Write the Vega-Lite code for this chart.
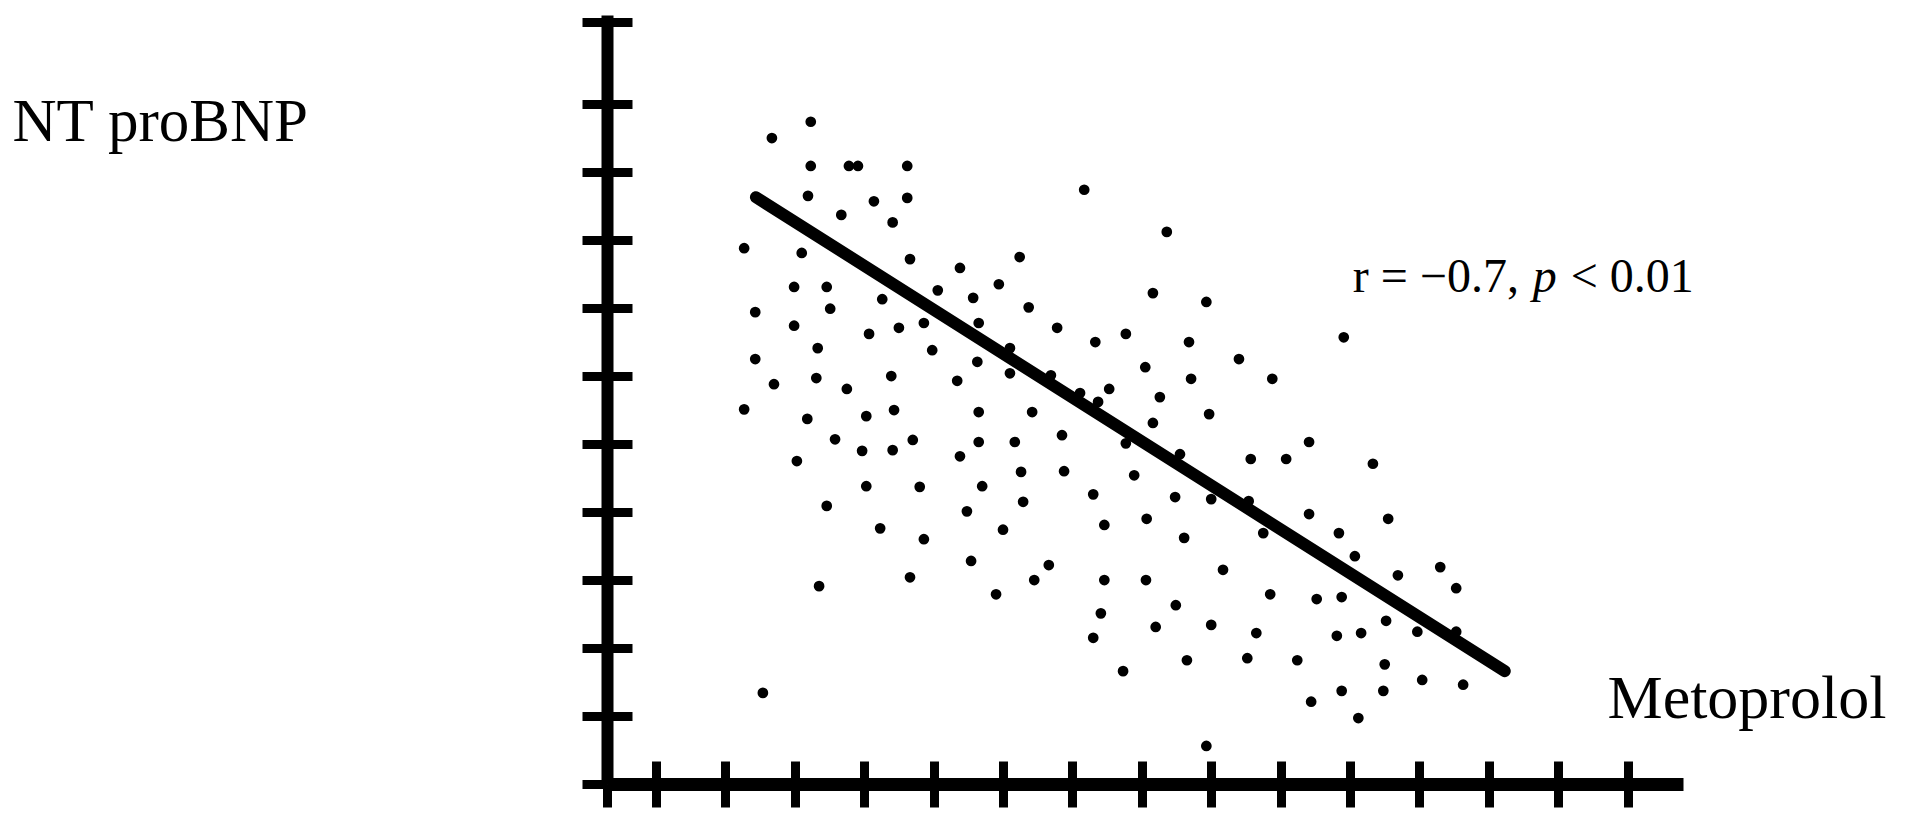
{
  "$schema": "https://vega.github.io/schema/vega-lite/v6.json",
  "width": 1076,
  "height": 769,
  "autosize": {"type": "none"},
  "padding": {"left": 607, "top": 15, "right": 223, "bottom": 46},
  "background": "white",
  "config": {
    "view": {"stroke": null},
    "axis": {"grid": false, "labels": false, "domainColor": "black", "tickColor": "black", "domainCap": "butt", "tickCap": "butt"}
  },
  "datasets": {
    "points": [
      {"x":3.23,"y":9.74},{"x":2.67,"y":9.50},{"x":3.23,"y":9.09},{"x":3.78,"y":9.09},{"x":3.91,"y":9.09},{"x":4.62,"y":9.09},{"x":3.19,"y":8.65},{"x":4.14,"y":8.57},{"x":4.62,"y":8.62},{"x":3.67,"y":8.37},{"x":4.41,"y":8.26},{"x":7.17,"y":8.74},{"x":2.27,"y":7.88},{"x":3.10,"y":7.81},{"x":4.66,"y":7.72},{"x":6.24,"y":7.75},{"x":5.38,"y":7.59},{"x":2.99,"y":7.31},{"x":3.46,"y":7.31},{"x":5.06,"y":7.26},{"x":5.94,"y":7.35},{"x":5.57,"y":7.15},{"x":4.26,"y":7.13},{"x":2.43,"y":6.94},{"x":3.51,"y":6.99},{"x":6.37,"y":7.01},{"x":2.99,"y":6.74},{"x":4.50,"y":6.71},{"x":4.86,"y":6.78},{"x":5.65,"y":6.78},{"x":4.07,"y":6.62},{"x":6.78,"y":6.71},{"x":7.33,"y":6.50},{"x":3.33,"y":6.41},{"x":4.98,"y":6.38},{"x":2.43,"y":6.25},{"x":5.63,"y":6.21},{"x":6.10,"y":6.41},{"x":6.10,"y":6.04},{"x":6.69,"y":6.01},{"x":3.31,"y":5.97},{"x":4.39,"y":6.00},{"x":2.70,"y":5.88},{"x":5.34,"y":5.93},{"x":3.75,"y":5.81},{"x":2.27,"y":5.51},{"x":3.18,"y":5.37},{"x":4.03,"y":5.41},{"x":4.43,"y":5.50},{"x":5.65,"y":5.47},{"x":6.42,"y":5.47},{"x":7.11,"y":5.75},
      {"x":8.36,"y":8.12},{"x":8.16,"y":7.22},{"x":8.93,"y":7.09},{"x":7.77,"y":6.62},{"x":8.68,"y":6.50},{"x":10.91,"y":6.57},{"x":9.40,"y":6.25},{"x":8.05,"y":6.13},{"x":8.71,"y":5.96},{"x":9.88,"y":5.96},{"x":7.53,"y":5.81},{"x":8.26,"y":5.69},{"x":7.37,"y":5.62},{"x":8.97,"y":5.44},{"x":8.16,"y":5.31},{"x":6.85,"y":5.13},{"x":6.17,"y":5.03},{"x":7.77,"y":5.01},{"x":8.55,"y":4.85},{"x":10.41,"y":5.03},{"x":9.57,"y":4.78},{"x":10.08,"y":4.78},{"x":11.33,"y":4.71},{"x":6.26,"y":4.59},{"x":6.88,"y":4.60},{"x":7.89,"y":4.54},{"x":6.29,"y":4.15},{"x":7.30,"y":4.26},{"x":8.48,"y":4.22},{"x":9.00,"y":4.19},{"x":9.54,"y":4.16},{"x":10.41,"y":3.97},{"x":11.55,"y":3.90},{"x":6.00,"y":3.74},{"x":7.46,"y":3.81},{"x":8.07,"y":3.90},{"x":8.61,"y":3.62},{"x":10.84,"y":3.69},{"x":9.75,"y":3.69},
      {"x":11.07,"y":3.35},{"x":12.30,"y":3.19},{"x":11.69,"y":3.07},{"x":12.53,"y":2.88},{"x":9.17,"y":3.15},{"x":7.46,"y":3.00},{"x":8.06,"y":3.00},{"x":9.85,"y":2.79},{"x":10.52,"y":2.72},{"x":10.88,"y":2.75},{"x":8.49,"y":2.63},{"x":7.41,"y":2.51},{"x":8.20,"y":2.31},{"x":9.00,"y":2.34},{"x":9.65,"y":2.22},{"x":10.81,"y":2.18},{"x":11.16,"y":2.22},{"x":11.52,"y":2.40},{"x":11.97,"y":2.24},{"x":12.53,"y":2.24},{"x":7.73,"y":1.66},{"x":8.65,"y":1.82},{"x":9.52,"y":1.85},{"x":10.24,"y":1.82},{"x":11.50,"y":1.76},{"x":12.04,"y":1.53},{"x":12.63,"y":1.46},{"x":10.88,"y":1.37},{"x":11.48,"y":1.37},{"x":10.44,"y":1.21},{"x":11.12,"y":0.97},{"x":8.93,"y":0.56},
      {"x":3.58,"y":5.07},{"x":3.97,"y":4.90},{"x":4.41,"y":4.91},{"x":4.70,"y":5.06},{"x":5.65,"y":5.03},{"x":3.03,"y":4.75},{"x":5.38,"y":4.82},{"x":4.03,"y":4.38},{"x":4.80,"y":4.37},{"x":5.70,"y":4.38},{"x":3.46,"y":4.09},{"x":5.48,"y":4.01},{"x":4.23,"y":3.76},{"x":4.86,"y":3.60},{"x":5.54,"y":3.28},{"x":6.66,"y":3.22},{"x":4.66,"y":3.04},{"x":3.35,"y":2.91},{"x":6.45,"y":3.00},{"x":5.90,"y":2.79},{"x":7.30,"y":2.15},{"x":2.54,"y":1.34}
    ],
    "fit": [{"x":2.44,"y":8.63},{"x":13.23,"y":1.66}]
  },
  "resolve": {"axis": {"x": "independent", "y": "independent"}},
  "layer": [
    {
      "data": {"name": "points"},
      "mark": {"type": "circle", "size": 115, "color": "black", "opacity": 1},
      "encoding": {
        "x": {"field": "x", "type": "quantitative",
          "scale": {"domain": [0.294, 15.798], "nice": false, "zero": false},
          "axis": {"orient": "bottom", "values": [0.294,1,2,3,4,5,6,7,8,9,10,11,12,13,14,15], "tickSize": 23, "tickWidth": 9, "domainWidth": 13, "labels": false,
            "title": "Metoprolol", "titleFont": "Liberation Serif", "titleFontSize": 62, "titleFontWeight": "normal", "titleColor": "black",
            "titleAngle": 0, "titleAlign": "left", "titleBaseline": "alphabetic", "titleX": 1000, "titleY": -67}},
        "y": {"field": "y", "type": "quantitative",
          "scale": {"domain": [0, 11.31], "nice": false, "zero": false},
          "axis": {"orient": "left", "values": [0,1,2,3,4,5,6,7,8,9,10,11.21], "tickSize": 25, "tickWidth": 9, "domainWidth": 12, "labels": false,
            "title": "NT proBNP", "titleFont": "Liberation Serif", "titleFontSize": 61, "titleFontWeight": "normal", "titleColor": "black",
            "titleAngle": 0, "titleAlign": "left", "titleBaseline": "alphabetic", "titleX": -595, "titleY": 125}}
      }
    },
    {
      "data": {"name": "fit"},
      "mark": {"type": "line", "color": "black", "strokeWidth": 12, "strokeCap": "round"},
      "encoding": {
        "x": {"field": "x", "type": "quantitative",
          "scale": {"domain": [0.294, 15.798], "nice": false, "zero": false},
          "axis": {"orient": "bottom", "values": [0.294,1,2,3,4,5,6,7,8,9,10,11,12,13,14,15], "tickSize": -23, "tickWidth": 9, "domain": false, "labels": false, "title": null}},
        "y": {"field": "y", "type": "quantitative",
          "scale": {"domain": [0, 11.31], "nice": false, "zero": false},
          "axis": {"orient": "left", "values": [0,1,2,3,4,5,6,7,8,9,10,11.21], "tickSize": -25, "tickWidth": 9, "domain": false, "labels": false, "title": null}}
      }
    },
    {
      "data": {"values": [{"t": "r = −0.7,"}]},
      "mark": {"type": "text", "font": "Liberation Serif", "fontSize": 48, "align": "left", "baseline": "alphabetic", "color": "black"},
      "encoding": {
        "text": {"field": "t"},
        "x": {"datum": 11.04, "type": "quantitative", "axis": null, "scale": {"domain": [0.294, 15.798], "nice": false, "zero": false}},
        "y": {"datum": 7.24, "type": "quantitative", "axis": null, "scale": {"domain": [0, 11.31], "nice": false, "zero": false}}
      }
    },
    {
      "data": {"values": [{"t": "p"}]},
      "mark": {"type": "text", "font": "Liberation Serif", "fontSize": 48, "fontStyle": "italic", "align": "left", "baseline": "alphabetic", "color": "black", "dx": 180},
      "encoding": {
        "text": {"field": "t"},
        "x": {"datum": 11.04, "type": "quantitative", "axis": null, "scale": {"domain": [0.294, 15.798], "nice": false, "zero": false}},
        "y": {"datum": 7.24, "type": "quantitative", "axis": null, "scale": {"domain": [0, 11.31], "nice": false, "zero": false}}
      }
    },
    {
      "data": {"values": [{"t": "< 0.01"}]},
      "mark": {"type": "text", "font": "Liberation Serif", "fontSize": 48, "align": "left", "baseline": "alphabetic", "color": "black", "dx": 218},
      "encoding": {
        "text": {"field": "t"},
        "x": {"datum": 11.04, "type": "quantitative", "axis": null, "scale": {"domain": [0.294, 15.798], "nice": false, "zero": false}},
        "y": {"datum": 7.24, "type": "quantitative", "axis": null, "scale": {"domain": [0, 11.31], "nice": false, "zero": false}}
      }
    }
  ]
}
